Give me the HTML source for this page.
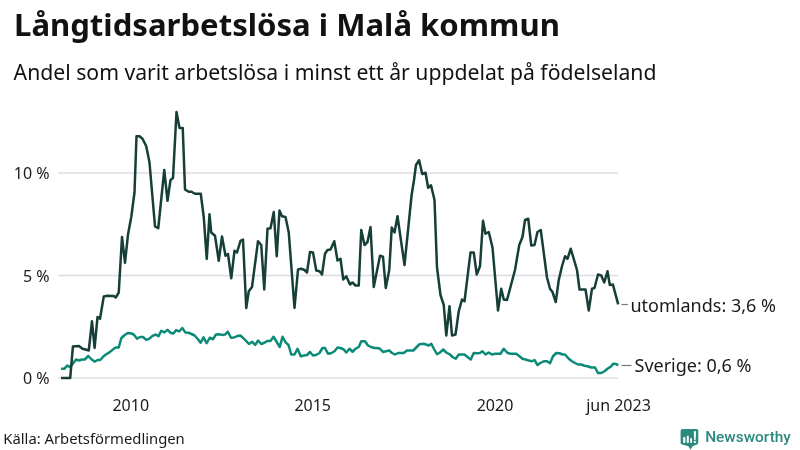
<!DOCTYPE html>
<html><head><meta charset="utf-8"><title>Långtidsarbetslösa i Malå kommun</title>
<style>
html,body{margin:0;padding:0;background:#fff;}
body{width:800px;height:450px;overflow:hidden;position:relative;}
svg{position:absolute;left:0;top:0;will-change:transform;}
.t{font-family:"Noto Sans","Liberation Sans",sans-serif;}
</style></head><body>
<svg width="800" height="450" viewBox="0 0 800 450">
<g class="t" fill="#121212">
<text x="14" y="36" font-size="31.1" font-weight="700">Långtidsarbetslösa i Malå kommun</text>
<text x="13.6" y="80.1" font-size="21.2">Andel som varit arbetslösa i minst ett år uppdelat på födelseland</text>
</g>
<g stroke="#dcdce3" stroke-width="1.5">
<line x1="58" y1="173" x2="618" y2="173"/>
<line x1="58" y1="275.5" x2="618" y2="275.5"/>
<line x1="58" y1="378" x2="618" y2="378"/>
</g>
<g class="t" fill="#1a1a1a" font-size="16" text-anchor="end">
<text x="49.5" y="179">10 %</text>
<text x="49.5" y="281.5">5 %</text>
<text x="49.5" y="384">0 %</text>
</g>
<g class="t" fill="#1a1a1a" font-size="16" text-anchor="middle">
<text x="130.75" y="411">2010</text>
<text x="312.7" y="411">2015</text>
<text x="495" y="411">2020</text>
<text x="618.5" y="411">jun 2023</text>
</g>
<polyline fill="none" stroke="#0b8a77" stroke-width="2.5" stroke-linejoin="round" points="61,368.8 64.3,368.8 67.2,365.5 70.2,367.1 73,363.5 76,359.5 79,360.5 82,359.5 84.8,359.5 88.3,356 91.7,359.5 94.6,361.6 97.6,360 100.3,360 103.1,356.75 106.25,354.25 109.4,352.4 112.5,349.9 115.6,347.4 118.75,347.4 121.25,338.25 124.4,335.25 127.75,333 130.6,333.25 133.75,334.5 136.9,338.6 140,337 143.1,337 146.25,339.9 149.4,338.6 152.5,335.9 155.6,334.6 158.5,336.1 161.25,330.75 164.4,332.4 167.5,329.9 170.6,332.75 173.1,333.6 176.25,330.1 179.1,331.5 182.25,328 185.25,332.4 188.4,332.75 191.5,334 194.6,335.5 197.75,339 200.6,342.75 203.5,337.4 206.6,343.25 209.75,337.75 212.9,339.25 216,334.5 219,334.25 222.1,334.9 225,334.6 227.9,331.75 231,337.75 234,337.4 237.25,336.1 240.25,335.5 243.5,338.25 246.25,341.1 249,344 252.1,341.75 255.25,344.9 258.1,340.5 261.25,344 264.4,342.75 267.5,340.9 270.6,340.9 273.5,336.75 276.6,341.75 279.75,347 282.5,336.75 285.6,342.4 288.5,345 291.25,354.5 294.5,354.5 297.5,348.75 300.75,356.25 304,355.5 307,355 310,352 313,355.5 316,355 319.5,353 322.5,348 325,348 328,353.75 331,353.25 334.5,351.25 337.5,347.5 340.5,348 343.75,349.5 346.25,352.5 349.5,348.75 352.5,351.75 355.5,348.75 358.75,347 361.25,341.25 365,341.25 368,345.5 371,347 374.5,348 377,348 380,348.75 383,352 386,351.25 389.25,350.5 392,353 395,354.5 398,353 401,353 403.75,353 407,350.5 410,350.5 413.25,350.5 416.25,347.5 419.5,344.25 423.75,343.75 428.75,345.5 431.25,343.75 434,349 437,354.25 440,352.5 443.25,349.5 446.25,352.5 450,354.5 452.5,357 455.75,358.75 458.75,354.5 461.5,354.5 464.5,354.5 467.5,357 470.75,359.5 473.75,353 477,353.25 480,353 482.5,351.25 485.5,354.5 488.75,352.5 492,354.5 495,353.75 498,353.75 500.5,353.75 503.75,348.75 507,352.5 510,353.75 513,353.75 516.25,353.75 519.5,356.25 522.5,358.75 525.5,359.5 528.75,360.5 532,361.25 534.5,360 537.5,365 540,363.25 543.75,361.25 547,361.25 550,363.25 553,356.25 556.25,353 559.5,353.25 562.5,354.5 565,354.5 568.75,358.75 572,361.25 575,363 578,364.5 581.25,364.5 584.5,365.75 587.5,366.25 591.25,367.5 595,367.5 598,373 601.25,373 604.5,371.25 607.5,368.75 611.25,366.25 613.1,363.8 616.2,364 618.2,365.6"/>
<polyline fill="none" stroke="#163f38" stroke-width="2.5" stroke-linejoin="round" points="61,378.1 70.2,378.1 72.9,346.6 79,346.1 82.4,348.7 85.5,349.5 88.75,350.5 92,321.25 94.6,347.9 97.5,317 100,318.75 103.75,296.5 107.5,295.75 113.75,296 115.75,297.5 118.75,292.5 122,237 125,262.75 128,234.5 131.25,217 134.5,192.5 136.5,136.25 139.5,136.25 142.5,138.75 146.25,146.25 149.5,162.5 155,226.5 158.25,228.25 164.25,170 167.5,200.75 170.5,180 173,178 176.5,112 179.5,128 182.75,128 185,189.5 188.75,191.75 191.5,191.75 195,193.75 200.75,193.75 203.75,217 206.75,259 209.5,214.25 211.25,232.5 215,235.75 218.75,260.75 222,236.5 225.5,255.75 228,254 231.25,278.25 234.5,250.75 237,252.5 240.5,240.75 243,239.5 246.25,308 248.75,291.25 252,287 258,241.25 261.25,245 264.25,289.5 267.5,228.75 270.5,228.25 273.75,212 276.75,256.25 279.5,210.5 282,216.25 285.5,217 288.75,232.5 294.5,308 298,269.5 301.25,268.75 304.5,270 307,272.5 310,252 313,252.5 316.25,270.5 319.5,271.25 322,274.5 325,253.75 327.5,250 330.5,249.5 334.25,241.25 337.5,260.5 340.5,258.75 343.25,279.5 346.25,276.25 350,284.5 352.5,282.5 355.5,285.5 358.75,285.5 361.25,230 364.5,245 367.5,242 370.5,227 373.75,287 380,255.75 383,256.75 385.75,288 389.25,270 391.75,227.5 394.5,232.5 397.5,216.25 404.5,265 411.5,196 414,180 416,165 419.1,160.25 422.25,174 425.6,172.75 428.1,187.75 431,185.25 434.5,200 437,267.5 440.5,295 443.75,305 446.25,335.5 449.5,306.25 452,335.5 455.5,334.5 458.75,311.25 462,299.5 464.5,301.25 470.5,252.5 473.75,252.5 476.75,274.5 480,266.25 483,220.75 485.5,233.75 488.75,232 492.5,247.5 498,310.5 501.25,288.75 503.75,299.5 507,300 515,270 519.25,245 522.5,237 525,220 528.25,218.75 531.25,245.5 534.5,245 537.5,232 540.75,230 547,277.5 550,288.75 552.5,292 555.75,302 558.75,280 562,266.25 565,256.25 567.5,258.75 570.75,248.75 577,270 579.5,289.5 585.5,289.5 588.75,310.5 592,288.75 594.5,288 598,274.5 601.25,275.5 604.25,282.5 607.5,271.25 609.8,285 612.9,284.6 618.2,304.4"/>
<g stroke="#777" stroke-width="1.2">
<line x1="621.5" y1="304.5" x2="628" y2="304.5"/>
<line x1="621.5" y1="365.5" x2="631.5" y2="365.5"/>
</g>
<g class="t" fill="#1a1a1a" font-size="18">
<text x="630.5" y="311.5">utomlands: 3,6 %</text>
<text x="634.5" y="371.5">Sverige: 0,6 %</text>
</g>
<text class="t" x="3.3" y="444.2" font-size="14.8" fill="#1a1a1a">Källa: Arbetsförmedlingen</text>
<path fill="#2b8a7f" d="M680.6 430.8 Q680.6 428.9 682.5 428.9 L696.4 428.9 Q698.3 428.9 698.3 430.8 L698.3 442.6 Q698.3 443.9 697 444.4 L692.6 446.3 L690.5 449.8 L688.4 446.3 L682 444.6 Q680.6 444.2 680.6 442.8 Z"/>
<g fill="#fff">
<rect x="683.2" y="436.9" width="2.1" height="6.1" rx="0.8"/>
<rect x="686.8" y="435.7" width="2" height="7.3" rx="0.8"/>
<rect x="690.2" y="438.1" width="1.9" height="4.9" rx="0.8"/>
<path d="M693.8 431.8 Q693.8 431.1 694.9 431.1 Q696 431.1 696 431.8 L695.6 440.2 L694.2 440.2 Z"/>
<rect x="693.9" y="441.1" width="2" height="1.9" rx="0.5"/>
</g>
<text x="705.2" y="441.5" font-family="Roboto,'Liberation Sans',sans-serif" font-weight="500" font-size="15.4" fill="#2b8a7f">Newsworthy</text>
</svg>
</body></html>
